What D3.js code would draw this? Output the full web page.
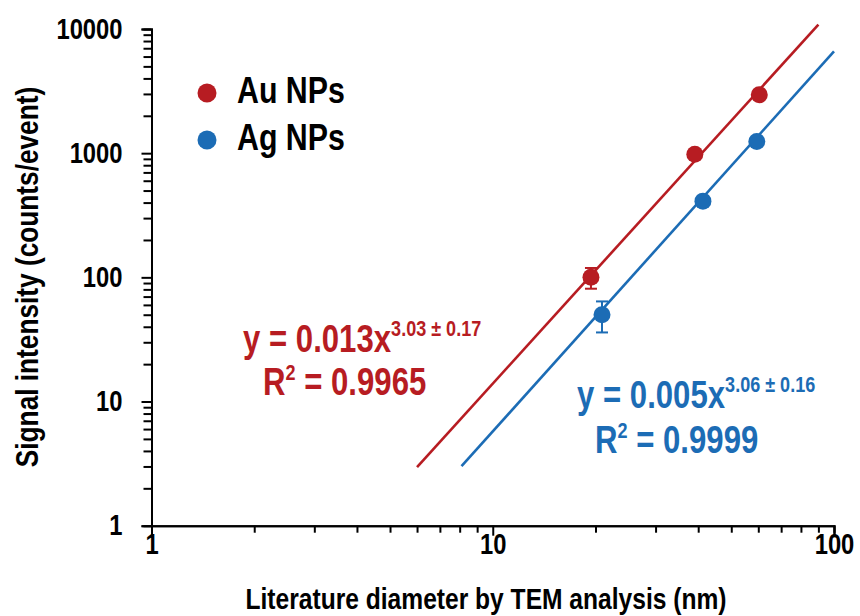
<!DOCTYPE html>
<html>
<head>
<meta charset="utf-8">
<script src="https://cdn.jsdelivr.net/npm/d3@7"></script>
<style>
  html, body { margin: 0; padding: 0; background: #fff; }
  svg text { font-family: "Liberation Sans", Arial, sans-serif; font-weight: bold; }
</style>
</head>
<body>
<svg id="chart" width="860" height="616"></svg>
<script>
// Measured particle sizes (nm) and mean signal (counts/event)
const seriesNames = ["Au NPs", "Ag NPs"];
const auDiameter = [19.4, 39.1, 60.4];
const auSignal = [100, 980, 2950];
const auError = [19, 0, 0];
const agDiameter = [20.9, 41.3, 59.4];
const agSignal = [50, 411, 1240];
const agError = [14, 0, 0];

// Power-law fits y = a * x^b
const auFit = { a: 0.013, b: 3.03, from: 6, to: 90 };
const agFit = { a: 0.005, b: 3.06, from: 8.1, to: 100 };
const auEquation = { coef: "y = 0.013x", exp: "3.03 ± 0.17", r2: "0.9965" };
const agEquation = { coef: "y = 0.005x", exp: "3.06 ± 0.16", r2: "0.9999" };

const xTicks = [1, 10, 100];
const yTicks = [1, 10, 100, 1000, 10000];

const RED = "#b71c22";
const BLUE = "#1c6cb5";
const NARROW = 0.82; // horizontal condensing of the bold sans face

const svg = d3.select("#chart");

const x = d3.scaleLog().domain([1, 100]).range([151.5, 834]);
const y = d3.scaleLog().domain([1, 10000]).range([525.7, 29]);

// minor ticks for each decade
const minorX = [];
for (let d = 1; d < 100; d *= 10) for (let k = 2; k <= 9; k++) minorX.push(k * d);
const minorY = [];
for (let d = 1; d < 10000; d *= 10) for (let k = 2; k <= 9; k++) minorY.push(k * d);

// condensed text placed at (px, py)
function narrowText(parent, px, py, size, color, anchor) {
  return parent.append("g")
    .attr("transform", `translate(${px},${py}) scale(${NARROW},1)`)
    .append("text")
    .attr("font-size", size).attr("fill", color)
    .attr("text-anchor", anchor || "start");
}

// axes
const xAxisG = svg.append("g").attr("transform", `translate(0,${y(1)})`);
xAxisG.call(d3.axisBottom(x).tickValues(minorX).tickSize(7).tickFormat(""));
xAxisG.append("g").call(d3.axisBottom(x).tickValues(xTicks).tickSize(10).tickFormat(d3.format("d")));
xAxisG.selectAll("path.domain").attr("stroke", "#000").attr("stroke-width", 2);
xAxisG.selectAll(".tick line").attr("stroke", "#000").attr("stroke-width", 2);
xAxisG.selectAll(".tick text")
  .attr("font-size", 29).attr("fill", "#000")
  .attr("y", 28).attr("dy", 0)
  .attr("transform", `scale(${NARROW},1)`);

const yAxisG = svg.append("g").attr("transform", `translate(${x(1)},0)`);
yAxisG.call(d3.axisLeft(y).tickValues(minorY).tickSize(8).tickFormat(""));
yAxisG.append("g").call(d3.axisLeft(y).tickValues(yTicks).tickSize(10).tickFormat(d3.format("d")));
yAxisG.selectAll("path.domain").attr("stroke", "#000").attr("stroke-width", 2);
yAxisG.selectAll(".tick line").attr("stroke", "#000").attr("stroke-width", 2);
yAxisG.selectAll(".tick text")
  .attr("font-size", 29).attr("fill", "#000")
  .attr("x", -29 / NARROW)
  .attr("transform", `scale(${NARROW},1)`);

// axis titles
narrowText(svg, 486, 609, 30, "#000", "middle")
  .text("Literature diameter by TEM analysis (nm)");

svg.append("g")
  .attr("transform", `translate(38,277) rotate(-90) scale(${NARROW},1)`)
  .append("text")
  .attr("text-anchor", "middle").attr("font-size", 32).attr("fill", "#000")
  .text("Signal intensity (counts/event)");

// fitted trend lines
function drawFit(fit, color) {
  const pts = [fit.from, fit.to].map(v => [v, fit.a * Math.pow(v, fit.b)]);
  svg.append("path")
    .attr("d", d3.line().x(d => x(d[0])).y(d => y(d[1]))(pts))
    .attr("stroke", color).attr("stroke-width", 2.6).attr("fill", "none");
}
drawFit(auFit, RED);
drawFit(agFit, BLUE);

// error bars and markers
function drawSeries(xs, ys, errs, color) {
  const data = xs.map((v, i) => ({ x: v, y: ys[i], e: errs[i] }));
  const g = svg.append("g");
  data.filter(d => d.e > 0).forEach(d => {
    const cx = x(d.x), y0 = y(d.y + d.e), y1 = y(d.y - d.e);
    g.append("line").attr("x1", cx).attr("x2", cx).attr("y1", y0).attr("y2", y1)
      .attr("stroke", color).attr("stroke-width", 2);
    [y0, y1].forEach(yy => g.append("line")
      .attr("x1", cx - 6).attr("x2", cx + 6).attr("y1", yy).attr("y2", yy)
      .attr("stroke", color).attr("stroke-width", 2));
  });
  g.selectAll("circle").data(data).join("circle")
    .attr("cx", d => x(d.x)).attr("cy", d => y(d.y)).attr("r", 8.5)
    .attr("fill", color);
}
drawSeries(auDiameter, auSignal, auError, RED);
drawSeries(agDiameter, agSignal, agError, BLUE);

// legend
[[seriesNames[0], RED, 93], [seriesNames[1], BLUE, 140]].forEach(([name, color, ly]) => {
  svg.append("circle").attr("cx", 207).attr("cy", ly).attr("r", 9.5).attr("fill", color);
  narrowText(svg, 237, ly + 10, 37, "#000").text(name);
});

// fit equations
function drawEquation(eq, color, x0, yBase, rx, rBase) {
  const t = narrowText(svg, x0, yBase, 38, color);
  t.append("tspan").text(eq.coef);
  t.append("tspan").attr("font-size", 22).attr("dy", -16).text(eq.exp);
  const r = narrowText(svg, rx, rBase, 38, color);
  r.append("tspan").text("R");
  r.append("tspan").attr("font-size", 22).attr("dy", -15).text("2");
  r.append("tspan").attr("dy", 15).text(" = " + eq.r2);
}
drawEquation(auEquation, RED, 243, 352, 263, 395);
drawEquation(agEquation, BLUE, 577, 408, 595, 453);
</script>
</body>
</html>
